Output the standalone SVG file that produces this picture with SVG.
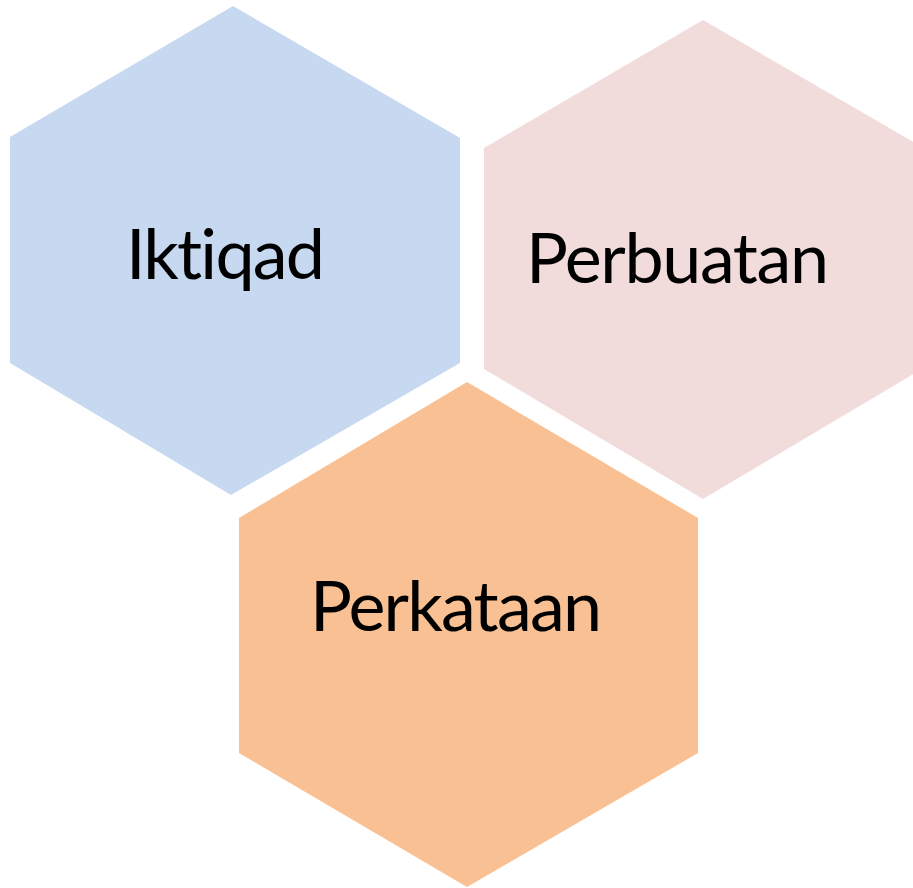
<svg xmlns="http://www.w3.org/2000/svg" width="913" height="888" viewBox="0 0 913 888">
<style>
.lbl{font-family:Lato,"Open Sans","Liberation Sans",sans-serif;font-size:70px;fill:#000;text-anchor:middle;font-variant-ligatures:none;font-feature-settings:"liga" 0,"clig" 0}
</style>
<rect width="913" height="888" fill="#fff"/>
<g id="node-iktiqad">
<polygon points="233,6 460,138 460,363 231,495 10,363 10,137" fill="#C6D9F0"/>
<text class="lbl" x="225.5" y="279" textLength="199">Iktiqad</text>
</g>
<g id="node-perbuatan">
<polygon points="703,20 922,147 922,369 703,499 484,369 484,148" fill="#F2DCDB"/>
<text class="lbl" x="677.5" y="283" textLength="303">Perbuatan</text>
</g>
<g id="node-perkataan">
<polygon points="467,382 698,518 698,753 467,887 239,753 239,518" fill="#F9C193"/>
<text class="lbl" x="456" y="631" textLength="292">Perkataan</text>
</g>
<g id="connectors"/>
</svg>
